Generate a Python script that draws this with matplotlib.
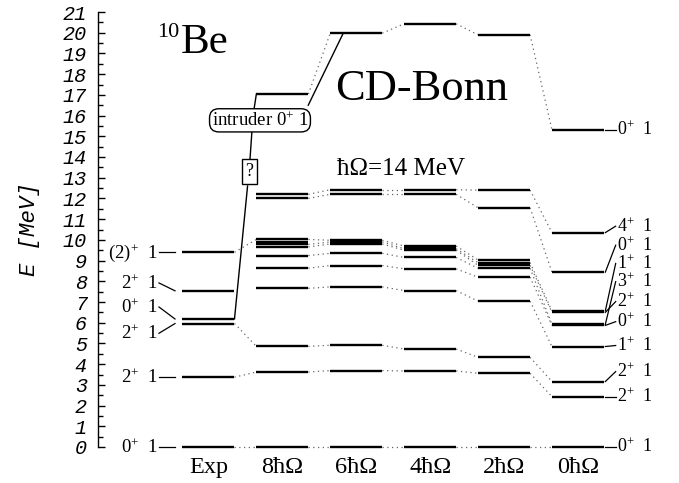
import matplotlib
matplotlib.use('Agg')
import matplotlib.pyplot as plt
from matplotlib.ticker import MultipleLocator

plt.rcParams['mathtext.fontset'] = 'custom'
plt.rcParams['mathtext.rm'] = 'Liberation Serif'
plt.rcParams['mathtext.it'] = 'Liberation Serif:italic'

# ---------------- data ----------------
columns = ['Exp', '8ħΩ', '6ħΩ', '4ħΩ', '2ħΩ', '0ħΩ']

exp_levels = {'0+1': 0.0, '2+1': 3.37, '2+2': 5.96, 'intr_exp': 6.18,
              '2+3': 7.54, 'x8': 9.40}
n8_levels = {'0+1': 0.0, '2+1': 3.62, '2+2': 4.86, '1+1': 7.66, 'x4': 8.63,
             'x5': 9.24, 'x6': 9.66, 'x7': 9.78, 'x9': 9.90, 'x8': 10.02,
             'x10': 12.00, 'x11': 12.20, 'intr': 17.04}
n6_levels = {'0+1': 0.0, '2+1': 3.69, '2+2': 4.91, '1+1': 7.73, 'x4': 8.76,
             'x5': 9.35, 'x6': 9.80, 'x7': 9.90, 'x8': 9.98,
             'x10': 12.20, 'x11': 12.42, 'intr': 19.98}
n4_levels = {'0+1': 0.0, '2+1': 3.67, '2+2': 4.73, '1+1': 7.55, 'x4': 8.60,
             'x5': 9.15, 'x6': 9.50, 'x7': 9.57, 'x9': 9.63, 'x8': 9.70,
             'x10': 12.20, 'x11': 12.42, 'intr': 20.43}
n2_levels = {'0+1': 0.0, '2+1': 3.56, '2+2': 4.33, '1+1': 7.04, 'x4': 8.20,
             'x5': 8.63, 'x6': 8.77, 'x7': 8.90, 'x8': 9.03,
             'x10': 11.55, 'x11': 12.40, 'intr': 19.90}
n0_levels = {'0+1': 0.0, '2+1': 2.43, '2+2': 3.16, '1+1': 4.85, 'x4': 5.87,
             'x5': 5.92, 'x6': 6.50, 'x7': 6.57, 'x10': 8.44, 'x11': 10.35,
             'intr': 15.31}
all_levels = [exp_levels, n8_levels, n6_levels, n4_levels, n2_levels, n0_levels]

left_labels = ['0$^{+}$  1', '2$^{+}$  1', '2$^{+}$  1', '0$^{+}$  1', '2$^{+}$  1', '(2)$^{+}$  1']
left_label_E = [0.0, 3.37, 5.49, 6.76, 7.92, 9.40]
left_target_E = [0.0, 3.37, 5.96, 6.18, 7.54, 9.40]

right_labels = ['0$^{+}$  1', '4$^{+}$  1', '0$^{+}$  1', '1$^{+}$  1', '3$^{+}$  1', '2$^{+}$  1',
                '0$^{+}$  1', '1$^{+}$  1', '2$^{+}$  1', '2$^{+}$  1', '0$^{+}$  1']
right_label_E = [15.31, 10.66, 9.74, 8.86, 7.98, 7.02, 6.05, 4.90, 3.64, 2.43, 0.0]
right_target_E = [15.31, 10.35, 8.44, 6.57, 5.92, 6.50, 5.87, 4.85, 3.16, 2.43, 0.0]

# ---------------- figure ----------------
W, H = 679, 483
fig = plt.figure(figsize=(W / 100, H / 100), dpi=100)
ax = fig.add_axes([98 / W, 36 / H, 581 / W, 435 / H])
ax.set_xlim(-1.495, 6.367)
ax.set_ylim(0, 21)

hw = 0.352
serif = ['Liberation Serif', 'DejaVu Serif']

# levels
for i, lev in enumerate(all_levels):
    for k, e in lev.items():
        ax.plot([i - hw, i + hw], [e, e], color='black', lw=1.7,
                solid_capstyle='butt', clip_on=False, zorder=3)

# dotted connectors between neighbouring columns
for i in range(len(all_levels) - 1):
    a, b = all_levels[i], all_levels[i + 1]
    for k in a:
        if k in b:
            ax.plot([i + hw, i + 1 - hw], [a[k], b[k]], color='0.4', lw=0.9,
                    linestyle=(0, (1, 2.8)), clip_on=False, zorder=2)

# left (Exp) labels
for lab, le, te in zip(left_labels, left_label_E, left_target_E):
    ax.text(-0.683, le - 0.27, lab, ha='right', va='baseline',
            fontsize=13.5, family=serif)
    ax.plot([-0.67, -0.453], [le, te], color='black', lw=0.9, clip_on=False)

# right (0hw) labels
for lab, le, te in zip(right_labels, right_label_E, right_target_E):
    ax.text(5.53, le - 0.26, lab, ha='left', va='baseline',
            fontsize=13, family=serif, clip_on=False)
    ax.plot([5.37, 5.51], [te, le], color='black', lw=0.9, clip_on=False)

# column labels
for i, c in enumerate(columns):
    ax.text(i, -1.25, c, ha='center', va='baseline', fontsize=17.5,
            family=serif, clip_on=False)

# intruder callout
q_x, q_E = 0.555, 13.28
b_x, b_E = 0.697, 15.77
ex_E = exp_levels['intr_exp']
ax.plot([hw, 0.529], [ex_E, 12.6], color='black', lw=1.0, zorder=4)
ax.plot([0.562, 0.589], [13.9, 15.3], color='black', lw=1.0, zorder=4)
ax.plot([0.616, 1 - hw], [16.3, n8_levels['intr']], color='black', lw=1.0, zorder=4)
ax.plot([1.35, 1.824], [16.5, n6_levels['intr']], color='black', lw=1.0, zorder=4)
ax.text(q_x, q_E, '?', ha='center', va='center', fontsize=13, family=serif, zorder=6,
        bbox=dict(boxstyle='square,pad=0.22', fc='white', ec='black', lw=1.0))
ax.text(b_x, b_E, 'intruder 0$^{+}$ 1', ha='center', va='center', fontsize=13.5,
        family=serif, zorder=6,
        bbox=dict(boxstyle='round,pad=0.12,rounding_size=0.5', fc='white',
                  ec='black', lw=1.0))

# titles
ax.text(-0.695, 19.8, '10', fontsize=16, family=serif, va='baseline', ha='left')
ax.text(-0.37, 19.03, 'Be', fontsize=31, family=serif, va='baseline', ha='left')
ax.text(1.712, 16.76, 'CD-Bonn', fontsize=32, family=serif, va='baseline', ha='left')
ax.text(1.735, 13.14, 'ħΩ=14 MeV', fontsize=18, family=serif, va='baseline', ha='left')

# axes styling
for s in ['top', 'right', 'bottom']:
    ax.spines[s].set_visible(False)
ax.spines['left'].set_linewidth(1.0)
ax.set_xticks([])
ax.yaxis.set_major_locator(MultipleLocator(1))
ax.yaxis.set_minor_locator(MultipleLocator(0.5))
ax.tick_params(axis='y', which='major', direction='in', length=5, width=1.0, pad=8)
ax.tick_params(axis='y', which='minor', direction='in', length=3.5, width=1.0)
for t in ax.get_yticklabels():
    t.set_fontfamily('Liberation Mono')
    t.set_fontstyle('italic')
    t.set_fontsize(14.5)
ax.set_ylabel('E [MeV]', fontsize=16, family='Liberation Mono', style='italic')
ax.yaxis.set_label_coords(-0.10, 0.5)

fig.savefig('out.png', dpi=100)
